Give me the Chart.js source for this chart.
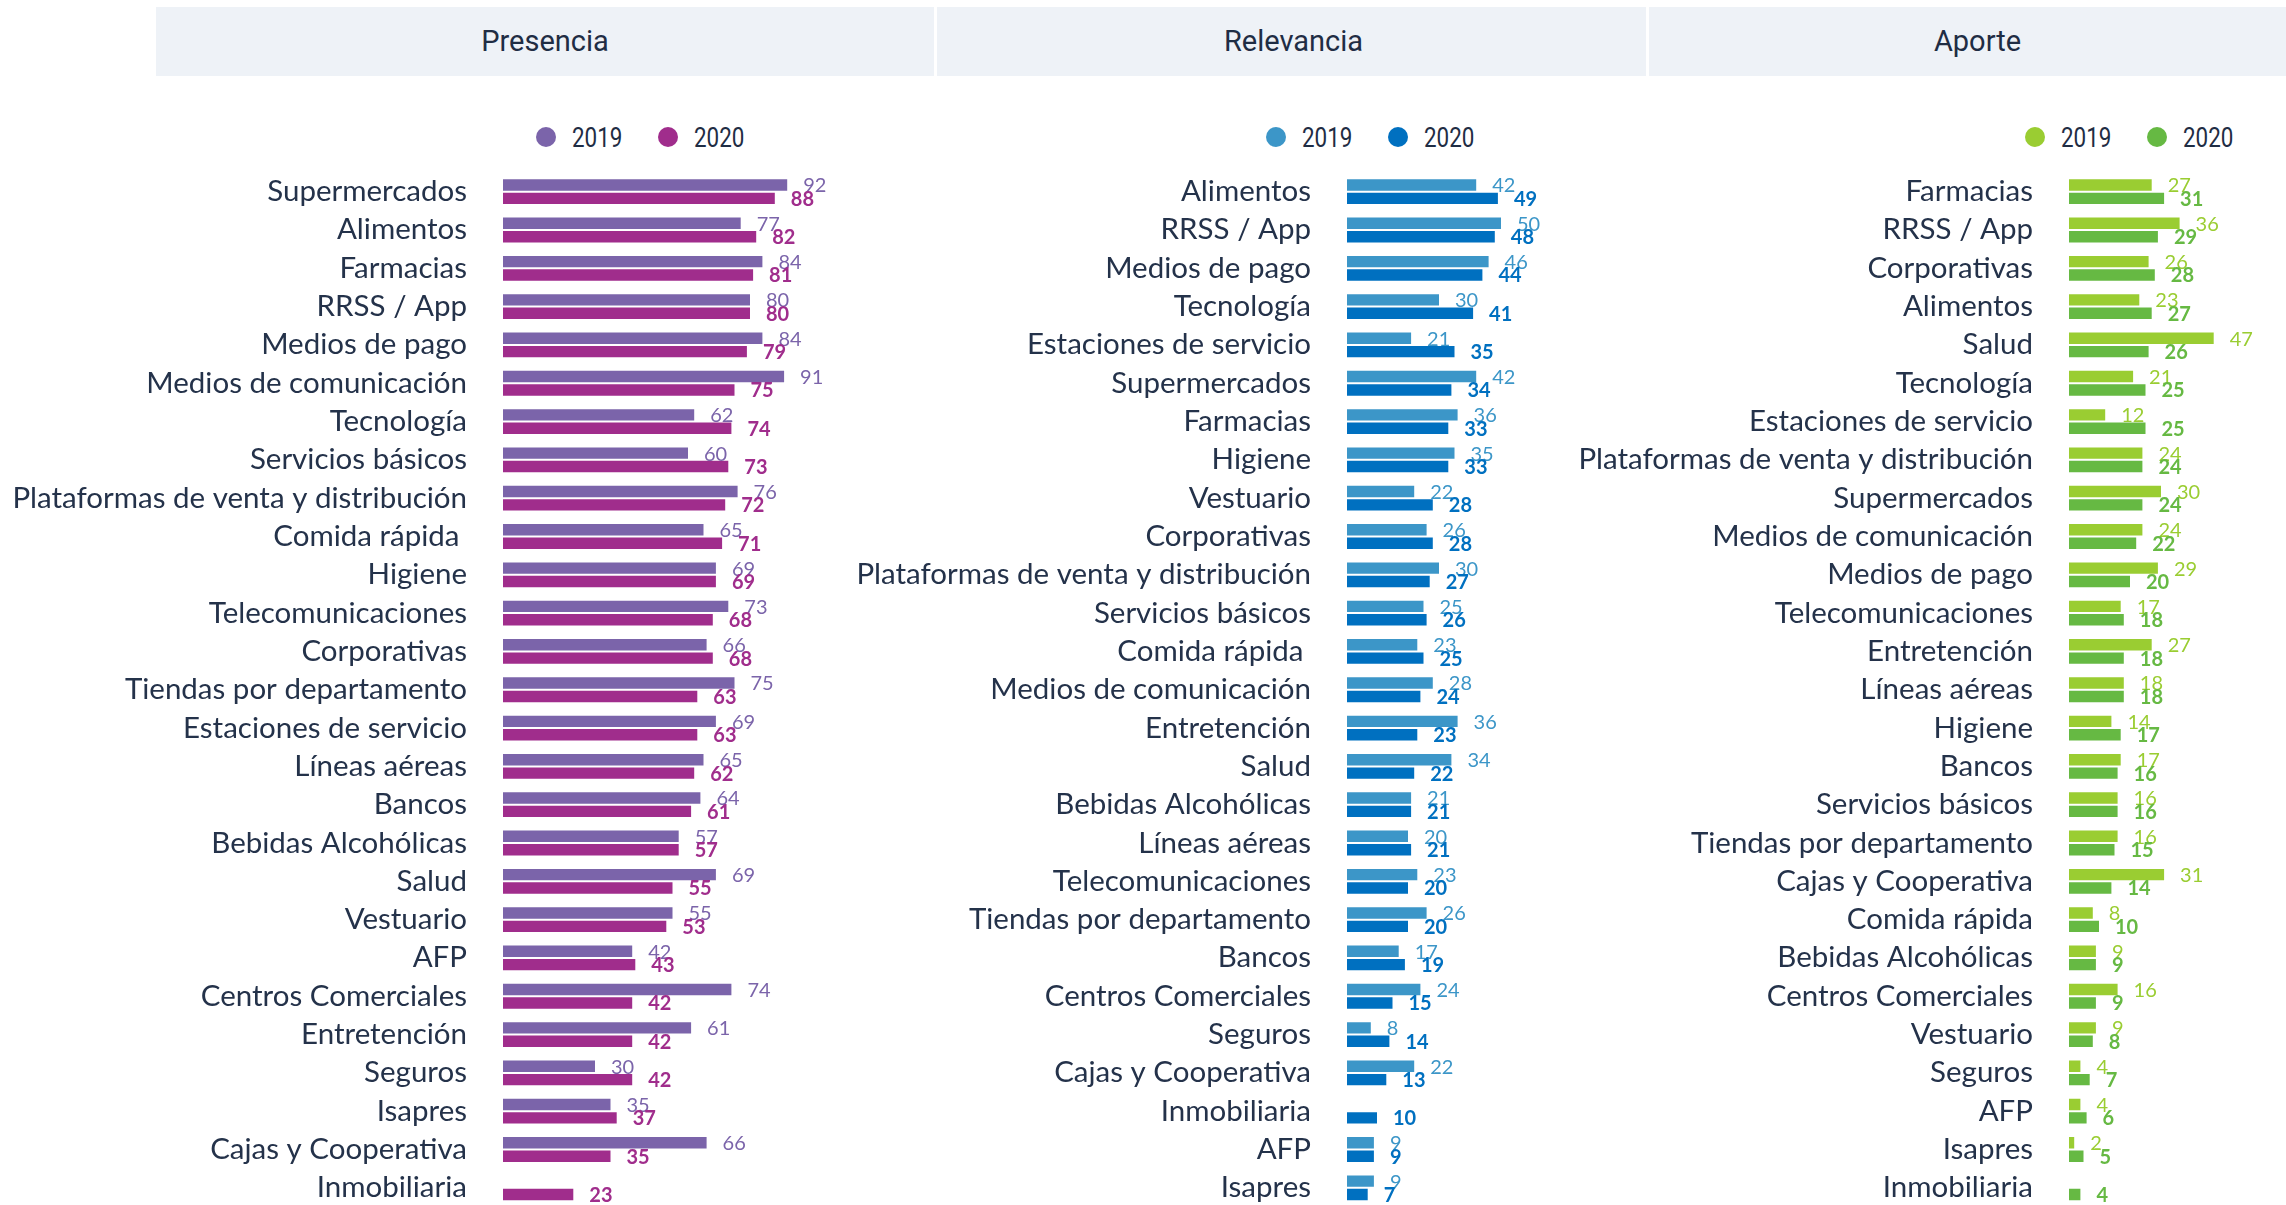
<!DOCTYPE html>
<html lang="es">
<head>
<meta charset="utf-8">
<title>Presencia, Relevancia y Aporte 2019 - 2020</title>
<script src="https://cdn.jsdelivr.net/npm/chart.js@4/dist/chart.umd.min.js"></script>
<style>
  html, body { margin: 0; padding: 0; background: #fff; overflow: hidden; }
  body { width: 2286px; height: 1205px; position: relative; font-family: Roboto, sans-serif; color: #1f2d44; }
  .band { position: absolute; top: 7px; height: 69px; line-height: 69px; background: #eef2f7; text-align: center; font-size: 29px; box-sizing: border-box; }
  .legend { position: absolute; top: 125px; height: 24px; display: flex; align-items: center; }
  .legend .item { display: flex; align-items: center; width: 122px; }
  .legend .dot { width: 20px; height: 20px; border-radius: 50%; margin-right: 16px; flex: none; }
  .legend span { display: inline-block; font-size: 28px; color: #1f2d44; transform: scaleX(0.8); transform-origin: left center; }
  .panel { position: absolute; top: 150px; height: 1060px; }
</style>
</head>
<body>

<div class="band" style="left:156px;width:778px">Presencia</div>
<div class="band" style="left:937px;width:709px;padding-left:4px">Relevancia</div>
<div class="band" style="left:1649px;width:637px;padding-left:20px">Aporte</div>

<div class="legend" id="legPres" style="left:536px"></div>
<div class="legend" id="legRel"  style="left:1266px"></div>
<div class="legend" id="legApo"  style="left:2025px"></div>

<div class="panel" style="left:0px;width:935px"><canvas id="chartPres"></canvas></div>
<div class="panel" style="left:820px;width:827px"><canvas id="chartRel"></canvas></div>
<div class="panel" style="left:1530px;width:756px"><canvas id="chartApo"></canvas></div>

<script>
// --- datos ---
const SERIES = ['2019', '2020'];

const presCats = ['Supermercados', 'Alimentos', 'Farmacias', 'RRSS / App', 'Medios de pago', 'Medios de comunicación',
  'Tecnología', 'Servicios básicos', 'Plataformas de venta y distribución', 'Comida rápida ', 'Higiene',
  'Telecomunicaciones', 'Corporativas', 'Tiendas por departamento', 'Estaciones de servicio', 'Líneas aéreas',
  'Bancos', 'Bebidas Alcohólicas', 'Salud', 'Vestuario', 'AFP', 'Centros Comerciales', 'Entretención', 'Seguros',
  'Isapres', 'Cajas y Cooperativa', 'Inmobiliaria'];
const pres2019 = [92, 77, 84, 80, 84, 91, 62, 60, 76, 65, 69, 73, 66, 75, 69, 65, 64, 57, 69, 55, 42, 74, 61, 30, 35, 66, null];
const pres2020 = [88, 82, 81, 80, 79, 75, 74, 73, 72, 71, 69, 68, 68, 63, 63, 62, 61, 57, 55, 53, 43, 42, 42, 42, 37, 35, 23];

const relCats = ['Alimentos', 'RRSS / App', 'Medios de pago', 'Tecnología', 'Estaciones de servicio', 'Supermercados',
  'Farmacias', 'Higiene', 'Vestuario', 'Corporativas', 'Plataformas de venta y distribución', 'Servicios básicos',
  'Comida rápida ', 'Medios de comunicación', 'Entretención', 'Salud', 'Bebidas Alcohólicas', 'Líneas aéreas',
  'Telecomunicaciones', 'Tiendas por departamento', 'Bancos', 'Centros Comerciales', 'Seguros',
  'Cajas y Cooperativa', 'Inmobiliaria', 'AFP', 'Isapres'];
const rel2019 = [42, 50, 46, 30, 21, 42, 36, 35, 22, 26, 30, 25, 23, 28, 36, 34, 21, 20, 23, 26, 17, 24, 8, 22, null, 9, 9];
const rel2020 = [49, 48, 44, 41, 35, 34, 33, 33, 28, 28, 27, 26, 25, 24, 23, 22, 21, 21, 20, 20, 19, 15, 14, 13, 10, 9, 7];

const apoCats = ['Farmacias', 'RRSS / App', 'Corporativas', 'Alimentos', 'Salud', 'Tecnología', 'Estaciones de servicio',
  'Plataformas de venta y distribución', 'Supermercados', 'Medios de comunicación', 'Medios de pago',
  'Telecomunicaciones', 'Entretención', 'Líneas aéreas', 'Higiene', 'Bancos', 'Servicios básicos',
  'Tiendas por departamento', 'Cajas y Cooperativa', 'Comida rápida', 'Bebidas Alcohólicas', 'Centros Comerciales',
  'Vestuario', 'Seguros', 'AFP', 'Isapres', 'Inmobiliaria'];
const apo2019 = [27, 36, 26, 23, 47, 21, 12, 24, 30, 24, 29, 17, 27, 18, 14, 17, 16, 16, 31, 8, 9, 16, 9, 4, 4, 2, null];
const apo2020 = [31, 29, 28, 27, 26, 25, 25, 24, 24, 22, 20, 18, 18, 18, 17, 16, 16, 15, 14, 10, 9, 9, 8, 7, 6, 5, 4];

// --- estilo ---
const PRES_COLORS = ['#7b64aa', '#a02d8c'];
const REL_COLORS  = ['#3c96c8', '#0070c0'];
const APO_COLORS  = ['#9acd32', '#66b943'];
const LABEL_COLOR = '#24324a';
const PX_PER_UNIT = 3.1;

// etiquetas de valor al final de cada barra
const valueLabels = {
  id: 'valueLabels',
  afterDatasetsDraw(chart) {
    const ctx = chart.ctx;
    chart.data.datasets.forEach((ds, i) => {
      const meta = chart.getDatasetMeta(i);
      meta.data.forEach((bar, j) => {
        const v = ds.data[j];
        if (v === null || v === undefined) return;
        ctx.save();
        ctx.font         = `${i === 1 ? 'bold ' : ''}20px Lato`;
        ctx.fillStyle    = ds.backgroundColor;
        ctx.textAlign    = 'left';
        ctx.textBaseline = 'middle';
        ctx.fillText(String(v), bar.x + 15, bar.y + 1);
        ctx.restore();
      });
    });
  },
};

function buildLegend(id, colors) {
  const el = document.getElementById(id);
  el.innerHTML = SERIES.map((s, i) =>
    `<div class="item"><div class="dot" style="background:${colors[i]}"></div><span>${s}</span></div>`).join('');
}

function makeChart(canvasId, labels, d2019, d2020, colors, yWidth, max, panelWidth) {
  const padRight = panelWidth - yWidth - max * PX_PER_UNIT;
  return new Chart(document.getElementById(canvasId).getContext('2d'), {
    type: 'bar',
    data: {
      labels,
      datasets: [
        { label: SERIES[0], data: d2019, backgroundColor: colors[0], borderColor: 'rgba(255,255,255,0.45)', borderWidth: 1,
          categoryPercentage: 0.7, barPercentage: 1 },
        { label: SERIES[1], data: d2020, backgroundColor: colors[1], borderColor: 'rgba(255,255,255,0.45)', borderWidth: 1,
          categoryPercentage: 0.7, barPercentage: 1 },
      ],
    },
    options: {
      indexAxis: 'y', responsive: true, maintainAspectRatio: false, animation: false,
      layout: { padding: { top: 22.5, bottom: 3, left: 0, right: padRight } },
      plugins: { legend: { display: false }, tooltip: { enabled: true } },
      scales: {
        x: { display: false, min: 0, max },
        y: {
          grid: { display: false, drawTicks: false }, border: { display: false },
          ticks: { autoSkip: false, padding: 36, color: LABEL_COLOR, font: { family: 'Lato', size: 29.5 } },
          afterFit: scale => {
            scale.width = yWidth;
            scale.paddingTop = 0;
            scale.paddingBottom = 0;
          },
        },
      },
    },
    plugins: [valueLabels],
  });
}

buildLegend('legPres', PRES_COLORS);
buildLegend('legRel', REL_COLORS);
buildLegend('legApo', APO_COLORS);

makeChart('chartPres', presCats, pres2019, pres2020, PRES_COLORS, 503, 100, 935);
makeChart('chartRel',  relCats,  rel2019,  rel2020,  REL_COLORS,  527, 60, 827);
makeChart('chartApo',  apoCats,  apo2019,  apo2020,  APO_COLORS,  539, 60, 756);
</script>
</body>
</html>
